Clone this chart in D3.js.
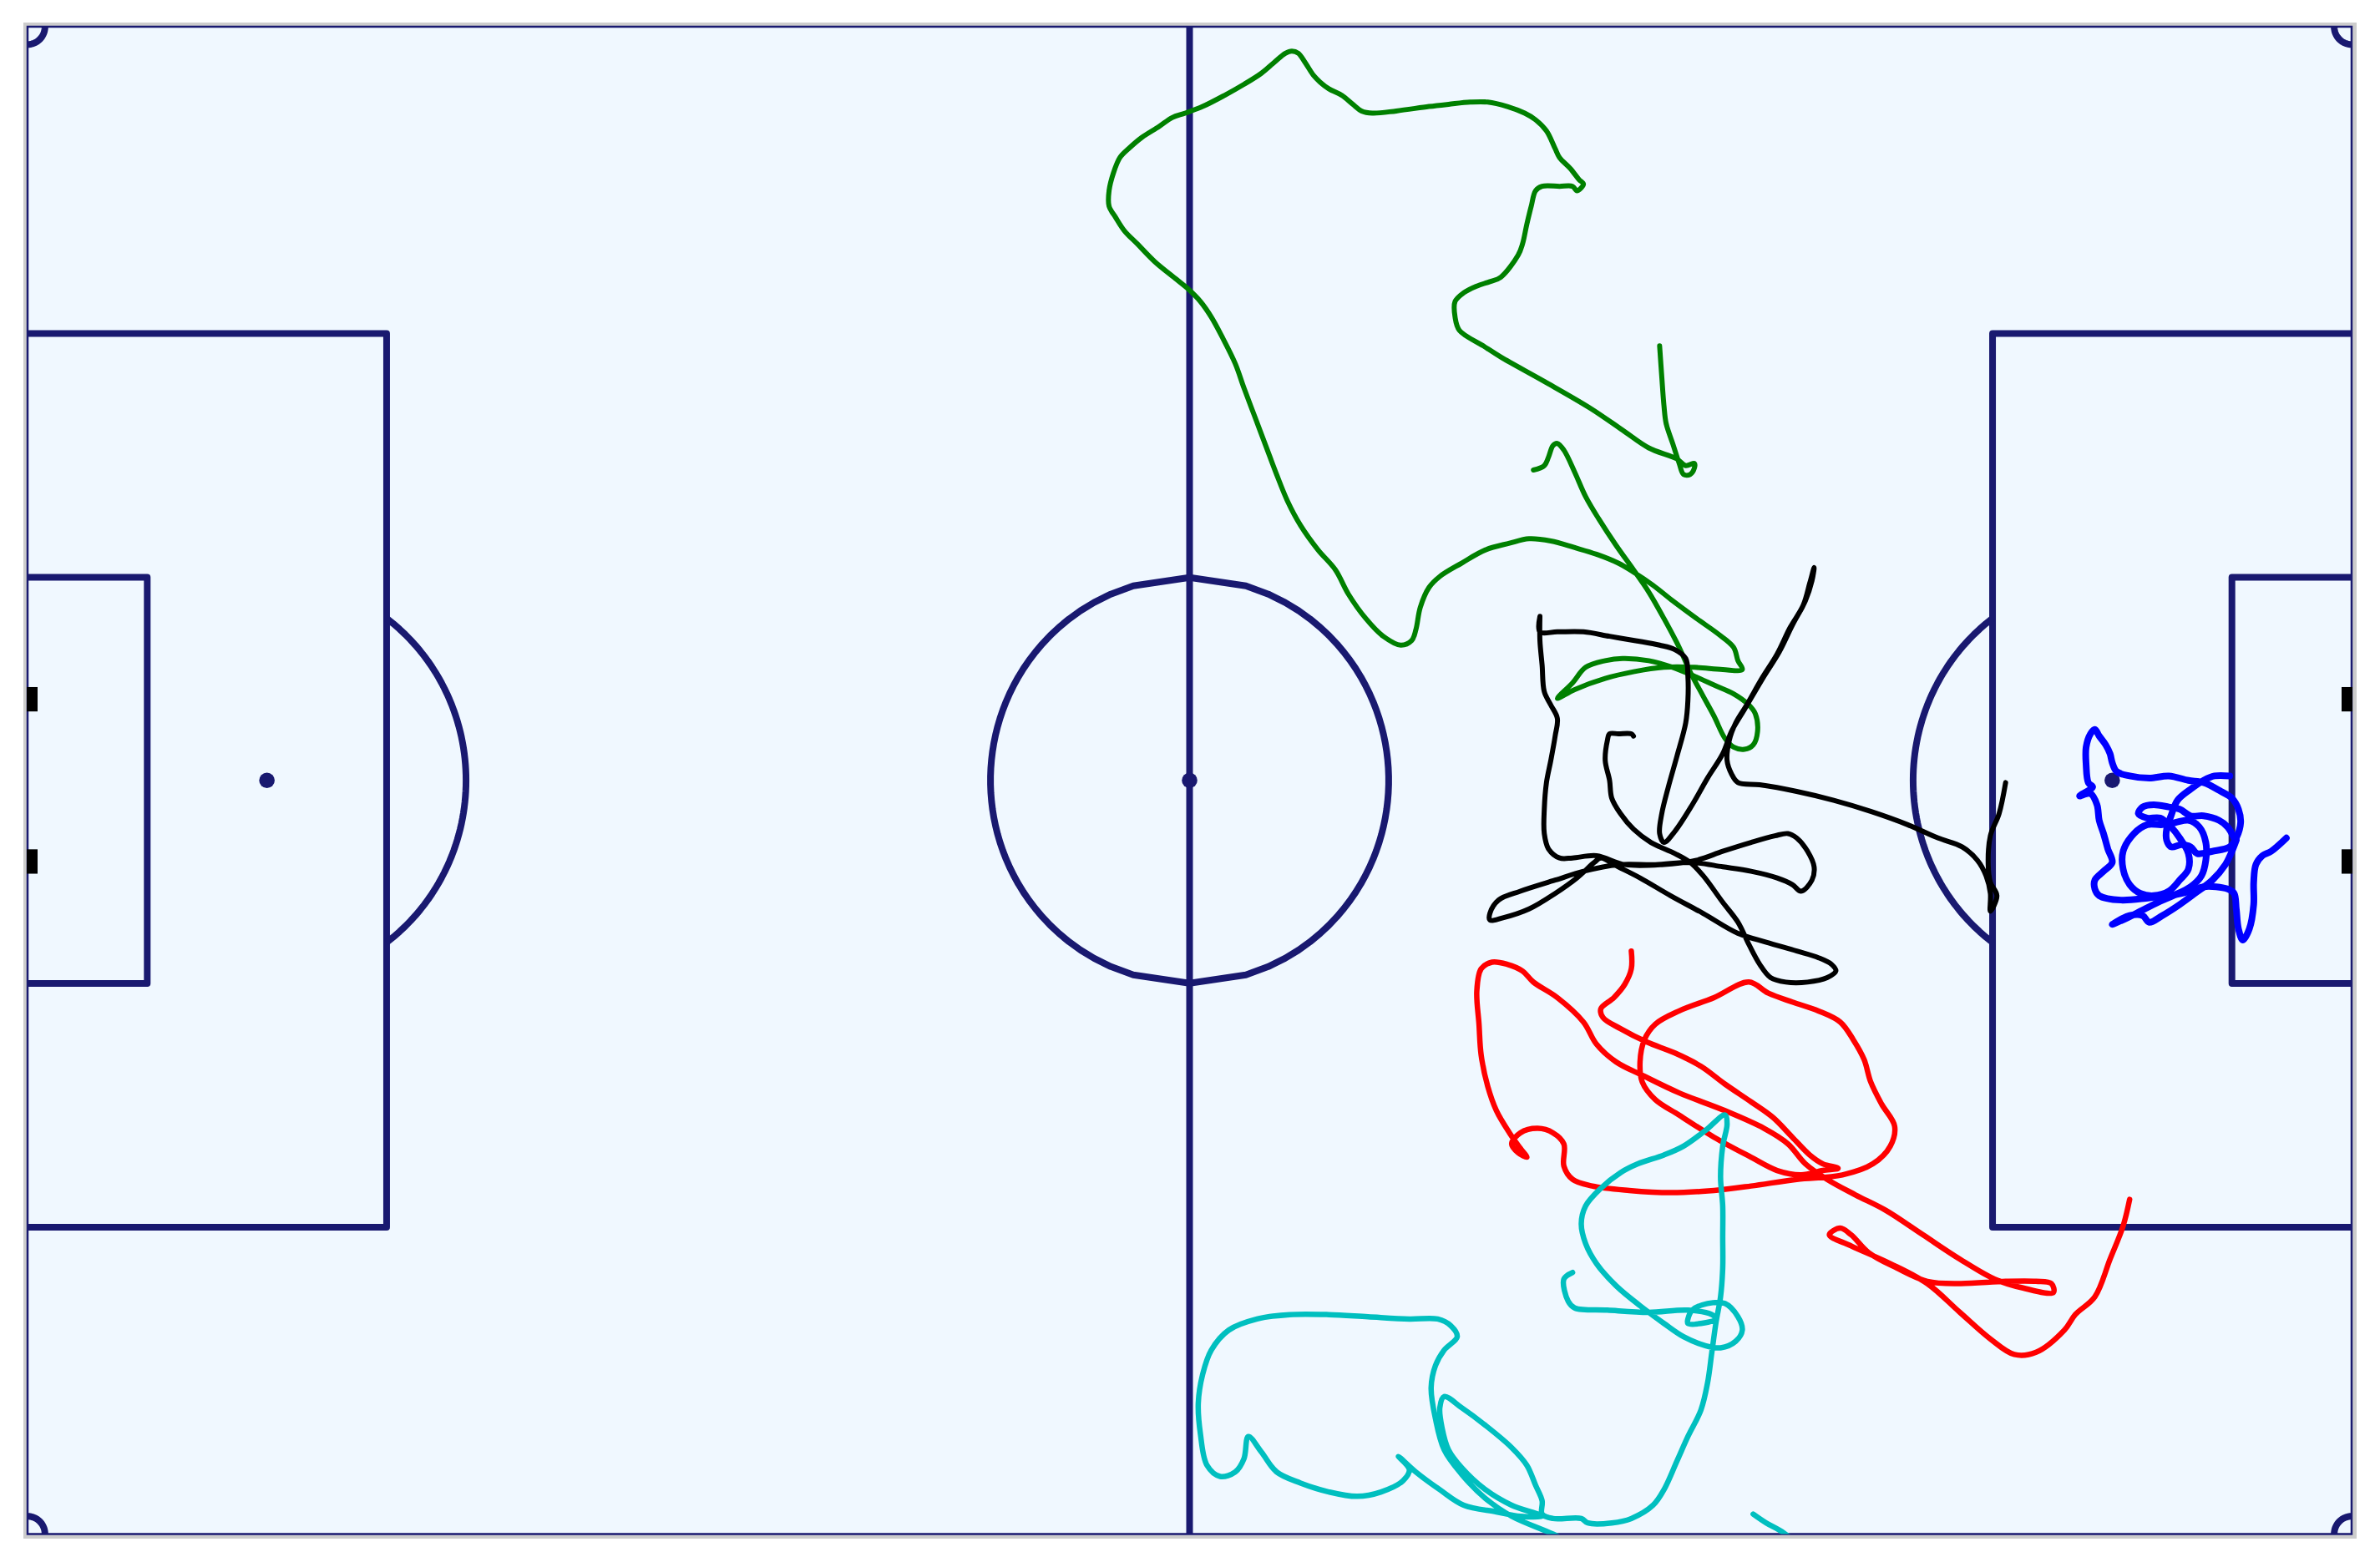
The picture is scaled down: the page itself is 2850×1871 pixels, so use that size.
<!DOCTYPE html>
<html><head><meta charset="utf-8">
<script src="https://cdn.jsdelivr.net/npm/d3@7"></script>
<style>html,body{margin:0;padding:0;background:#fff}svg{display:block}</style>
</head><body>
<svg id="chart" width="2850" height="1871"></svg>
<script>
// Pitch dimensions (metres) and markings
const pitchLength = 106.8, pitchWidth = 68;
const markings = {box:16.5, boxWidth:40.32, six:5.5, sixWidth:18.32, spot:11, circle:9.15, goal:7.32, corner:0.8};

// Player tracks (metres, x along pitch, y from top touchline)
const greenTrack = [[75.0,14.4],[75.1,15.8],[75.2,17.1],[75.3,17.9],[75.6,18.8],[75.9,19.7],[76.1,20.2],[76.4,20.2],[76.6,19.9],[76.6,19.7],[76.2,19.8],[75.8,19.5],[74.5,19.0],[73.3,18.2],[71.8,17.2],[69.7,16.0],[67.7,14.9],[66.9,14.4],[65.8,13.7],[65.6,13.1],[65.6,12.4],[66.0,12.0],[66.6,11.7],[67.2,11.5],[67.7,11.3],[68.5,10.3],[68.7,9.8],[68.9,8.9],[69.1,8.1],[69.3,7.4],[69.6,7.2],[70.4,7.2],[71.0,7.2],[71.2,7.4],[71.5,7.1],[71.3,6.9],[70.9,6.4],[70.4,5.9],[70.2,5.5],[69.8,4.7],[69.3,4.2],[68.8,3.9],[68.0,3.6],[67.1,3.4],[66.3,3.4],[65.3,3.5],[64.4,3.6],[62.9,3.8],[61.8,3.9],[61.3,3.8],[60.9,3.5],[60.4,3.1],[59.8,2.8],[59.4,2.5],[59.1,2.2],[58.7,1.6],[58.4,1.2],[58.1,1.1],[57.8,1.2],[57.3,1.6],[56.7,2.1],[55.9,2.6],[55.0,3.1],[54.0,3.6],[53.2,3.9],[52.6,4.1],[52.0,4.5],[51.2,5.0],[50.6,5.5],[50.2,5.9],[49.9,6.6],[49.7,7.4],[49.7,8.1],[50.0,8.6],[50.4,9.2],[51.0,9.8],[51.8,10.6],[52.8,11.4],[53.3,11.8],[53.9,12.4],[54.4,13.1],[54.9,14.0],[55.5,15.2],[55.9,16.3],[56.4,17.6],[56.9,18.9],[57.4,20.2],[57.9,21.4],[58.5,22.5],[59.3,23.6],[60.1,24.5],[60.7,25.6],[61.5,26.7],[62.3,27.5],[63.1,27.9],[63.6,27.7],[63.8,27.2],[64.0,26.2],[64.4,25.3],[64.9,24.8],[65.9,24.2],[67.0,23.6],[68.1,23.3],[69.0,23.1],[70.0,23.2],[71.1,23.5],[72.1,23.8],[73.1,24.2],[73.8,24.6],[74.7,25.2],[75.6,25.9],[76.7,26.7],[77.7,27.4],[78.4,28.0],[78.6,28.6],[78.8,29.0],[77.9,29.0],[76.6,28.9],[75.2,28.9],[73.8,29.1],[72.5,29.4],[71.1,29.9],[70.3,30.3],[71.0,29.6],[71.6,28.9],[72.5,28.6],[73.3,28.5],[74.5,28.6],[75.6,28.9],[76.6,29.3],[77.5,29.7],[78.4,30.1],[79.1,30.6],[79.4,31.0],[79.5,31.8],[79.3,32.4],[78.9,32.6],[78.4,32.5],[78.0,32.1],[77.5,31.1],[77.0,30.2],[76.4,29.1],[75.9,28.0],[75.2,26.7],[74.5,25.5],[73.8,24.5],[73.0,23.4],[72.2,22.2],[71.6,21.2],[71.1,20.1],[70.6,19.1],[70.3,18.8],[70.1,18.9],[69.9,19.4],[69.7,19.8],[69.2,20.0]];

const blackTrack = [[73.8,32.0],[73.7,31.9],[73.1,31.9],[72.7,31.9],[72.6,32.2],[72.5,33.1],[72.7,34.0],[72.8,34.8],[73.2,35.5],[73.8,36.2],[74.6,36.8],[75.7,37.3],[76.4,37.7],[77.0,38.3],[77.9,39.5],[78.6,40.4],[79.1,41.4],[79.6,42.3],[80.1,42.9],[80.8,43.1],[81.8,43.1],[82.7,42.9],[83.1,42.6],[82.9,42.3],[82.3,42.0],[81.3,41.7],[79.9,41.3],[78.6,40.9],[77.0,40.0],[75.5,39.2],[74.1,38.4],[73.1,37.9],[72.3,37.5],[72.0,37.7],[71.2,38.4],[70.2,39.1],[69.0,39.8],[67.8,40.2],[67.2,40.3],[67.2,40.0],[67.6,39.4],[68.6,39.0],[70.2,38.5],[71.5,38.1],[73.1,37.8],[74.8,37.8],[76.5,37.7],[77.9,37.9],[79.2,38.1],[80.4,38.4],[81.1,38.7],[81.5,39.0],[82.0,38.5],[82.1,37.9],[81.8,37.2],[81.3,36.6],[80.9,36.4],[80.3,36.5],[79.2,36.8],[77.9,37.2],[76.7,37.6],[75.1,37.8],[73.4,37.8],[72.1,37.4],[71.0,37.5],[70.4,37.5],[69.9,37.1],[69.7,36.4],[69.7,35.3],[69.8,34.1],[70.0,33.1],[70.2,32.0],[70.3,31.2],[70.0,30.6],[69.7,30.0],[69.6,28.8],[69.5,27.7],[69.5,26.6],[69.5,27.3],[70.3,27.3],[71.5,27.3],[72.7,27.5],[73.9,27.7],[75.0,27.9],[75.7,28.1],[76.2,28.5],[76.3,29.3],[76.3,30.4],[76.2,31.4],[75.8,32.9],[75.4,34.3],[75.1,35.5],[75.0,36.4],[75.2,36.8],[75.7,36.3],[76.5,35.1],[77.2,33.9],[77.9,32.8],[78.3,31.8],[78.9,30.8],[79.8,29.3],[80.5,28.2],[81.1,27.0],[81.7,25.9],[82.0,25.0],[82.1,24.4],[81.9,25.1],[81.6,26.1],[81.0,27.1],[80.4,28.3],[79.7,29.4],[79.0,30.6],[78.5,31.4],[78.2,32.2],[78.1,33.1],[78.3,33.7],[78.6,34.1],[79.6,34.2],[81.3,34.5],[83.0,34.9],[84.7,35.4],[86.4,36.0],[87.8,36.6],[88.9,37.0],[89.6,37.6],[90.0,38.3],[90.2,39.1],[90.2,39.9],[90.5,39.2],[90.2,38.6],[90.1,37.8],[90.2,36.5],[90.6,35.5],[90.9,34.1]];

const redTrack = [[73.7,41.7],[73.7,42.5],[73.4,43.2],[72.9,43.8],[72.3,44.3],[72.4,44.7],[73.2,45.2],[74.4,45.8],[75.7,46.3],[76.9,46.9],[78.0,47.7],[79.2,48.5],[80.2,49.2],[81.1,50.1],[81.9,50.9],[82.5,51.3],[83.2,51.5],[82.5,51.6],[81.5,51.8],[80.4,51.6],[79.2,51.0],[77.5,50.1],[75.9,49.1],[74.8,48.4],[74.2,47.6],[74.1,46.7],[74.3,45.7],[74.8,45.0],[75.9,44.4],[77.5,43.8],[79.1,43.1],[80.0,43.6],[81.1,44.0],[82.3,44.4],[83.3,44.9],[83.9,45.7],[84.4,46.6],[84.7,47.6],[85.2,48.6],[85.8,49.6],[85.6,50.5],[84.8,51.3],[83.4,51.8],[81.3,52.0],[79.2,52.3],[77.5,52.5],[75.5,52.6],[73.6,52.5],[71.9,52.3],[71.0,52.0],[70.6,51.4],[70.6,50.4],[70.1,49.9],[69.4,49.7],[68.6,49.9],[68.2,50.4],[68.5,50.8],[68.9,51.0],[68.6,50.6],[68.1,49.9],[67.5,48.9],[67.1,47.8],[66.8,46.4],[66.7,45.0],[66.6,43.5],[66.8,42.5],[67.3,42.2],[68.0,42.3],[68.7,42.6],[69.2,43.1],[70.3,43.8],[71.5,44.9],[72.1,45.9],[73.0,46.7],[74.2,47.3],[75.9,48.1],[78.0,48.9],[79.8,49.7],[80.9,50.4],[81.7,51.3],[82.7,52.0],[84.0,52.7],[85.4,53.4],[87.1,54.5],[88.8,55.6],[90.4,56.5],[91.7,56.9],[93.1,57.1],[93.0,56.7],[92.3,56.6],[90.9,56.6],[88.8,56.7],[87.3,56.6],[85.9,56.0],[84.6,55.3],[83.8,54.5],[83.3,54.2],[82.8,54.5],[83.8,55.0],[85.6,55.8],[87.3,56.7],[88.8,58.0],[90.2,59.2],[91.3,59.9],[92.3,59.8],[93.6,58.8],[94.1,58.1],[95.0,57.3],[95.7,55.6],[96.3,54.1],[96.6,52.9]];

const cyanTrack = [[71.0,56.2],[70.6,56.5],[70.8,57.5],[71.1,57.8],[72.6,57.9],[74.5,58.0],[76.3,57.9],[77.4,58.1],[77.6,58.3],[76.9,58.5],[76.3,58.5],[76.3,58.3],[76.5,57.9],[77.2,57.6],[78.0,57.6],[78.6,58.2],[78.8,58.8],[78.5,59.3],[77.8,59.6],[77.1,59.5],[76.1,59.1],[75.2,58.5],[74.1,57.7],[73.0,56.8],[72.1,55.8],[71.6,54.9],[71.4,54.0],[71.6,53.2],[72.3,52.4],[73.2,51.7],[74.0,51.3],[75.2,50.9],[76.1,50.5],[77.1,49.8],[78.0,49.1],[78.1,49.5],[77.9,50.5],[77.8,51.9],[77.9,53.2],[77.9,54.6],[77.9,56.0],[77.8,57.3],[77.6,58.4],[77.4,59.8],[77.2,61.2],[76.9,62.4],[76.3,63.6],[75.8,64.7],[75.2,66.0],[74.7,66.7],[73.7,67.3],[72.8,67.5],[71.7,67.5],[71.4,67.3],[70.1,67.3],[69.6,67.1],[69.6,66.5],[69.3,65.8],[68.9,64.9],[68.2,64.1],[67.0,63.1],[65.9,62.3],[65.1,61.8],[64.9,62.3],[65.0,63.2],[65.3,64.2],[65.9,65.0],[67.0,66.0],[68.2,66.7],[69.6,67.2],[68.6,67.2],[67.5,67.0],[66.0,66.7],[64.9,66.0],[63.8,65.2],[63.0,64.5],[63.5,65.1],[63.2,65.6],[62.2,66.1],[61.1,66.3],[59.8,66.1],[58.5,65.7],[57.4,65.2],[56.7,64.3],[56.1,63.6],[55.9,64.6],[55.5,65.2],[54.8,65.4],[54.2,64.9],[53.9,63.5],[53.8,62.1],[54.0,60.8],[54.4,59.7],[55.2,58.8],[56.5,58.3],[58.0,58.1],[59.8,58.1],[61.6,58.2],[63.5,58.3],[64.8,58.3],[65.4,58.6],[65.7,59.1],[65.1,59.7],[64.7,60.4],[64.5,61.4],[64.7,62.8],[65.1,64.2],[65.9,65.3],[67.0,66.4],[68.2,67.2],[70.1,68.0],[72.0,68.9],[76.0,69.6],[80.0,69.6],[81.6,68.8],[80.7,67.95],[79.9,67.5],[79.3,67.1]];

const blueTrackA = [[101.2,33.8],[100.5,33.8],[100.0,34.0],[99.4,34.4],[98.8,34.9],[98.5,35.6],[98.3,36.2],[98.3,36.7],[98.5,37.0],[99.0,36.9],[99.4,37.0],[99.7,37.3],[100.4,37.2],[101.2,37.0],[101.5,36.6],[101.7,35.9],[101.6,35.3],[101.3,34.8],[100.8,34.5],[100.0,34.1],[99.3,34.0],[98.4,33.8],[97.5,33.9],[96.6,33.8],[96.0,33.6],[95.8,33.2],[95.7,32.8],[95.5,32.4],[95.2,32.0],[95.0,31.7],[94.8,31.9],[94.6,32.5],[94.6,33.3],[94.7,34.1],[94.9,34.3],[94.3,34.7],[94.8,34.6],[95.1,35.1],[95.2,35.8],[95.4,36.4],[95.6,37.1],[95.8,37.7],[95.4,38.1],[95.0,38.5],[95.0,38.9],[95.2,39.2],[96.2,39.4],[97.5,39.3],[98.5,39.2],[99.4,39.0],[100.0,38.8],[101.1,38.9],[101.4,39.1],[101.5,39.8],[101.6,40.7],[101.8,41.2],[102.1,40.7],[102.3,39.6],[102.3,38.6],[102.4,37.8],[102.7,37.4],[103.1,37.2],[103.8,36.6]];

const blueTrackB = [[101.4,36.6],[101.1,36.1],[100.7,35.8],[100.0,35.6],[99.4,35.6],[98.9,35.3],[98.4,35.2],[97.7,35.1],[97.2,35.2],[97.0,35.5],[97.4,35.7],[98.0,35.7],[98.5,36.1],[98.9,36.6],[99.3,37.3],[99.3,38.0],[98.9,38.5],[98.4,39.0],[97.7,39.2],[97.1,39.1],[96.6,38.7],[96.3,38.0],[96.3,37.2],[96.8,36.4],[97.4,36.0],[98.1,36.0],[98.7,35.9],[99.3,35.8],[99.8,36.1],[100.1,36.8],[100.1,37.6],[99.9,38.3],[99.4,38.8],[98.6,39.2],[97.9,39.5],[97.1,39.9],[96.5,40.2],[95.8,40.5],[96.6,40.1],[97.2,40.1],[97.5,40.4],[98.1,40.1],[98.9,39.6],[99.6,39.1],[100.4,38.5],[101.0,37.8],[101.3,37.2],[101.5,36.7]];

const tracks = [
  {name:"green", color:"#008000", width:6, data:greenTrack},
  {name:"black", color:"#000000", width:6, data:blackTrack},
  {name:"red",   color:"#ff0000", width:6.5, data:redTrack},
  {name:"cyan",  color:"#00bfbf", width:6.5, data:cyanTrack},
  {name:"blueA", color:"#0000ff", width:8, data:blueTrackA},
  {name:"blueB", color:"#0000ff", width:8, data:blueTrackB}
];

const svg = d3.select("#chart");
const x = d3.scaleLinear().domain([0, pitchLength]).range([33, 2816]);
const y = d3.scaleLinear().domain([0, pitchWidth]).range([32, 1837.5]);
const LINE = "#191970";

// frame and turf
svg.append("rect").attr("x",28).attr("y",27).attr("width",2794).attr("height",1816).attr("fill","#cccccc");
svg.append("rect").attr("x",x(0)-1).attr("y",y(0)-1).attr("width",x(pitchLength)-x(0)+2).attr("height",y(pitchWidth)-y(0)+2).attr("fill","#f0f8ff");

const g = svg.append("g").attr("fill","none").attr("stroke",LINE).attr("stroke-width",8).attr("stroke-linejoin","round");
const line = d3.line().x(d=>x(d[0])).y(d=>y(d[1]));

// outer boundary (thin)
svg.append("rect").attr("x",x(0)).attr("y",y(0)).attr("width",x(pitchLength)-x(0)).attr("height",y(pitchWidth)-y(0))
  .attr("fill","none").attr("stroke",LINE).attr("stroke-width",2.5);

const cx = pitchLength/2, cy = pitchWidth/2;
// halfway line
g.append("path").attr("d", line([[cx,0],[cx,pitchWidth]]));

// centre circle sampled uniformly in y
function circlePts(ccx, ccy, r, n){
  const right=[], left=[];
  for(let i=0;i<n;i++){
    const dy = -r + 2*r*i/(n-1);
    const dx = Math.sqrt(Math.max(0, r*r-dy*dy));
    right.push([ccx+dx, ccy+dy]);
    left.push([ccx-dx, ccy+dy]);
  }
  return right.concat(left.reverse());
}
g.append("path").attr("d", line(circlePts(cx, cy, markings.circle, 50)) + "Z");

// boxes for both ends
[0,1].forEach(side=>{
  const X = v => side===0 ? v : pitchLength - v;
  const bw = markings.boxWidth/2, sw = markings.sixWidth/2;
  g.append("path").attr("d", line([[X(0),cy-bw],[X(markings.box),cy-bw],[X(markings.box),cy+bw],[X(0),cy+bw]]));
  g.append("path").attr("d", line([[X(0),cy-sw],[X(markings.six),cy-sw],[X(markings.six),cy+sw],[X(0),cy+sw]]));
  const r = markings.circle, off = markings.box - markings.spot;
  const h = Math.sqrt(r*r - off*off);
  const arc = [];
  for(let i=0;i<=60;i++){
    const dy = -h + 2*h*i/60;
    const dx = Math.sqrt(r*r - dy*dy);
    arc.push([X(markings.spot + dx), cy+dy]);
  }
  g.append("path").attr("d", line(arc));
  svg.append("circle").attr("cx", x(X(markings.spot))).attr("cy", y(cy)).attr("r", 9.3).attr("fill", LINE);
  [cy - markings.goal/2, cy + markings.goal/2].forEach(py=>{
    const x0 = side===0 ? x(0)-1 : x(pitchLength)-12;
    svg.append("rect").attr("x", x0).attr("y", y(py-0.55)).attr("width", 13).attr("height", y(py+0.55)-y(py-0.55)).attr("fill","#000");
  });
});
svg.append("circle").attr("cx", x(cx)).attr("cy", y(cy)).attr("r", 9.3).attr("fill", LINE);

// corner arcs
const cr = markings.corner;
[[0,0],[pitchLength,0],[0,pitchWidth],[pitchLength,pitchWidth]].forEach(([px,py])=>{
  const pts=[];
  for(let i=0;i<=20;i++){
    const a = (Math.PI/2)*i/20;
    const sx = px===0 ? 1 : -1, sy = py===0 ? 1 : -1;
    pts.push([px + sx*cr*Math.cos(a), py + sy*cr*Math.sin(a)]);
  }
  g.append("path").attr("d", line(pts));
});

// tracks, clipped to the pitch
svg.append("clipPath").attr("id","pitchClip").append("rect")
  .attr("x",x(0)).attr("y",y(0)).attr("width",x(pitchLength)-x(0)).attr("height",y(pitchWidth)-y(0));
const trackLine = d3.line().x(d=>x(d[0])).y(d=>y(d[1])).curve(d3.curveCatmullRom.alpha(0.5));
const tg = svg.append("g").attr("clip-path","url(#pitchClip)");
tracks.forEach(t=>{
  tg.append("path").attr("d", trackLine(t.data)).attr("fill","none").attr("stroke",t.color)
    .attr("stroke-width",t.width).attr("stroke-linecap","round").attr("stroke-linejoin","round");
});
</script>
</body></html>
